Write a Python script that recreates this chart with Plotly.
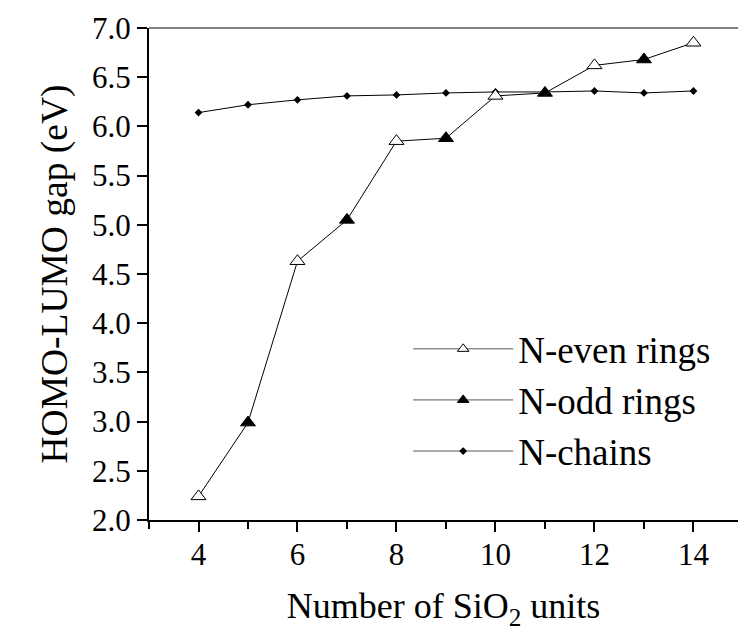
import plotly.graph_objects as go

# Ring data (even and odd N alternate along one connected line)
ring_x = [4, 5, 6, 7, 8, 9, 10, 11, 12, 13, 14]
ring_y = [2.24, 2.99, 4.63, 5.05, 5.85, 5.88, 6.31, 6.34, 6.62, 6.68, 6.85]

even_x = [4, 6, 8, 10, 12, 14]
even_y = [2.24, 4.63, 5.85, 6.31, 6.62, 6.85]
odd_x = [5, 7, 9, 11, 13]
odd_y = [2.99, 5.05, 5.88, 6.34, 6.68]

chain_x = [4, 5, 6, 7, 8, 9, 10, 11, 12, 13, 14]
chain_y = [6.14, 6.22, 6.27, 6.31, 6.32, 6.34, 6.35, 6.35, 6.36, 6.34, 6.36]

y_ticks = [2.0, 2.5, 3.0, 3.5, 4.0, 4.5, 5.0, 5.5, 6.0, 6.5, 7.0]
x_ticks = [4, 6, 8, 10, 12, 14]

FONT = "Liberation Serif, Times New Roman, serif"
BLACK = "#000000"

fig = go.Figure()

fig.add_trace(go.Scatter(x=ring_x, y=ring_y, mode="lines",
                         line=dict(color=BLACK, width=1), showlegend=False, hoverinfo="skip"))
fig.add_trace(go.Scatter(x=chain_x, y=chain_y, mode="lines+markers",
                         line=dict(color=BLACK, width=1),
                         marker=dict(symbol="diamond", size=6, color=BLACK),
                         showlegend=False))
fig.add_trace(go.Scatter(x=even_x, y=even_y, mode="markers",
                         marker=dict(symbol="triangle-up", size=13, color="white",
                                     line=dict(color=BLACK, width=1)),
                         showlegend=False))
fig.add_trace(go.Scatter(x=odd_x, y=odd_y, mode="markers",
                         marker=dict(symbol="triangle-up", size=13, color=BLACK,
                                     line=dict(color=BLACK, width=1)),
                         showlegend=False))

fig.add_trace(go.Scatter(x=[None], y=[None], mode="lines+markers", name="N-even rings",
                         line=dict(color="#555555", width=1),
                         marker=dict(symbol="triangle-up", size=10, color="white",
                                     line=dict(color=BLACK, width=1))))
fig.add_trace(go.Scatter(x=[None], y=[None], mode="lines+markers", name="N-odd rings",
                         line=dict(color="#555555", width=1),
                         marker=dict(symbol="triangle-up", size=10, color=BLACK,
                                     line=dict(color=BLACK, width=1))))
fig.add_trace(go.Scatter(x=[None], y=[None], mode="lines+markers", name="N-chains",
                         line=dict(color="#555555", width=1),
                         marker=dict(symbol="diamond", size=6, color=BLACK)))

fig.update_layout(
    width=738, height=631,
    margin=dict(l=149, r=0, t=28, b=111),
    plot_bgcolor="white", paper_bgcolor="white",
    font=dict(family=FONT, color=BLACK, size=30),
    showlegend=True,
    legend=dict(x=0.44, y=0.41, xanchor="left", yanchor="top",
                bgcolor="rgba(0,0,0,0)", font=dict(size=37, family=FONT),
                itemwidth=100, tracegroupgap=0),
    shapes=[dict(type="line", xref="paper", yref="paper", x0=0, x1=1, y0=1, y1=1,
                 line=dict(color="#808080", width=2))],
)

fig.update_xaxes(range=[3, 14.9], tickvals=x_ticks, ticktext=[str(v) for v in x_ticks],
                 ticks="outside", ticklen=10, tickwidth=2, tickcolor=BLACK,
                 minor=dict(tickvals=[3, 5, 7, 9, 11, 13], ticks="outside", ticklen=7,
                            tickwidth=2, tickcolor=BLACK),
                 showline=True, linecolor=BLACK, linewidth=2, showgrid=False, zeroline=False,
                 tickfont=dict(size=31, family=FONT), ticklabelstandoff=-4,
                 title=dict(text="Number of SiO<sub>2</sub> units", font=dict(size=36, family=FONT),
                            standoff=24))
fig.update_yaxes(range=[2.0, 7.0], tickvals=y_ticks, ticktext=[f"{v:.1f}" for v in y_ticks],
                 ticks="outside", ticklen=10, tickwidth=2, tickcolor=BLACK,
                 showline=True, linecolor=BLACK, linewidth=2, showgrid=False, zeroline=False,
                 tickfont=dict(size=31, family=FONT),
                 title=dict(text="HOMO-LUMO gap (eV)", font=dict(size=37.5, family=FONT),
                            standoff=13))

fig.write_html("out.html")
